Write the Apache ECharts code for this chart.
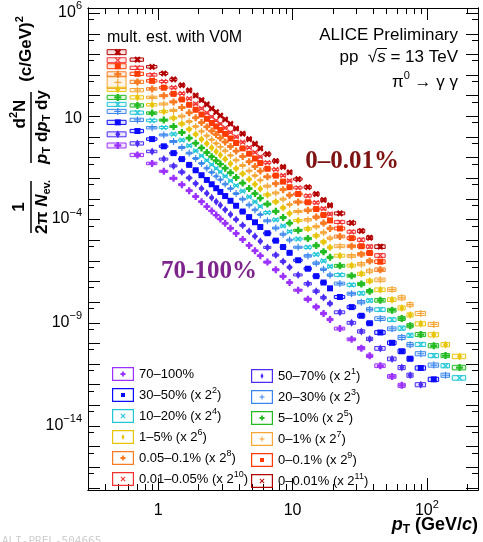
<!DOCTYPE html>
<html><head><meta charset="utf-8">
<script src="https://cdn.jsdelivr.net/npm/echarts@6/dist/echarts.min.js"></script>
<style>html,body{margin:0;padding:0;background:#fff}#c{width:483px;height:542px}</style>
</head><body><div id="c"></div>
<script>
// ---- data (pT bin edges in GeV/c, yields stored as log10 of 1/(2pi Nev) d2N/(pT dpT dy)) ----
const binEdges = [0.4,0.6,0.8,1.0,1.2,1.4,1.6,1.8,2.0,2.2,2.4,2.6,2.8,3.0,3.3,3.6,4.0,4.5,5.0,5.5,6.0,7.0,8.0,9.0,10,12,14,16,18,20,25,30,35,40,50,60,70,80,100,125,150,200];
const classNames = ['70–100%','50–70% (x 2^1)','30–50% (x 2^2)','20–30% (x 2^3)','10–20% (x 2^4)','5–10% (x 2^5)','1–5% (x 2^6)','0–1% (x 2^7)','0.05–0.1% (x 2^8)','0–0.1% (x 2^9)','0.01–0.05% (x 2^10)','0–0.01% (x 2^11)'];
const logY_70_100 = [-0.41,-0.87,-1.28,-1.66,-2.00,-2.31,-2.60,-2.88,-3.13,-3.37,-3.58,-3.78,-3.97,-4.18,-4.42,-4.67,-4.96,-5.25,-5.51,-5.75,-6.06,-6.43,-6.75,-7.05,-7.42,-7.86,-8.23,-8.55,-8.84,-9.28,-9.80,-10.23,-10.60,-11.08,-11.60,-12.03];
const logY_50_70 = [0.13,-0.31,-0.70,-1.07,-1.40,-1.70,-1.98,-2.25,-2.50,-2.73,-2.94,-3.13,-3.31,-3.52,-3.75,-4.00,-4.28,-4.56,-4.81,-5.05,-5.35,-5.72,-6.03,-6.31,-6.68,-7.11,-7.47,-7.78,-8.07,-8.49,-9.00,-9.42,-9.78,-10.24,-10.75,-11.17,-11.54,-12.00];
const logY_30_50 = [0.71,0.29,-0.10,-0.45,-0.78,-1.07,-1.35,-1.61,-1.85,-2.08,-2.29,-2.48,-2.66,-2.86,-3.09,-3.33,-3.61,-3.88,-4.13,-4.36,-4.66,-5.02,-5.33,-5.61,-5.97,-6.38,-6.74,-7.05,-7.33,-7.75,-8.24,-8.66,-9.02,-9.47,-9.97,-10.38,-10.74,-11.19,-11.74];
const logY_20_30 = [1.24,0.83,0.45,0.10,-0.22,-0.51,-0.78,-1.04,-1.28,-1.51,-1.71,-1.90,-2.07,-2.28,-2.50,-2.74,-3.01,-3.29,-3.53,-3.76,-4.06,-4.41,-4.71,-4.99,-5.34,-5.76,-6.11,-6.41,-6.69,-7.10,-7.59,-8.00,-8.35,-8.80,-9.29,-9.71,-10.06,-10.50,-11.05,-11.54];
const logY_10_20 = [1.58,1.18,0.80,0.46,0.14,-0.15,-0.42,-0.67,-0.91,-1.13,-1.34,-1.52,-1.69,-1.90,-2.12,-2.35,-2.62,-2.90,-3.14,-3.36,-3.66,-4.01,-4.31,-4.58,-4.94,-5.34,-5.69,-6.00,-6.27,-6.68,-7.16,-7.57,-7.92,-8.36,-8.85,-9.26,-9.61,-10.05,-10.59,-11.08,-11.67];
const logY_5_10 = [1.92,1.53,1.16,0.82,0.51,0.22,-0.05,-0.30,-0.53,-0.75,-0.95,-1.14,-1.31,-1.51,-1.73,-1.96,-2.23,-2.50,-2.74,-2.96,-3.25,-3.60,-3.90,-4.17,-4.52,-4.92,-5.26,-5.56,-5.83,-6.24,-6.72,-7.12,-7.47,-7.91,-8.39,-8.79,-9.14,-9.57,-10.11,-10.59,-11.17];
const logY_1_5 = [2.31,1.92,1.56,1.23,0.92,0.64,0.38,0.13,-0.11,-0.32,-0.52,-0.70,-0.87,-1.07,-1.29,-1.52,-1.78,-2.05,-2.29,-2.51,-2.80,-3.14,-3.43,-3.70,-4.04,-4.45,-4.78,-5.08,-5.35,-5.75,-6.23,-6.63,-6.97,-7.40,-7.88,-8.28,-8.62,-9.05,-9.58,-10.06,-10.63];
const logY_0_1 = [2.65,2.27,1.92,1.60,1.29,1.01,0.75,0.51,0.28,0.06,-0.13,-0.31,-0.48,-0.67,-0.89,-1.12,-1.38,-1.64,-1.87,-2.09,-2.38,-2.71,-3.01,-3.27,-3.61,-4.01,-4.34,-4.63,-4.90,-5.29,-5.76,-6.16,-6.49,-6.92,-7.39,-7.79,-8.12,-8.55,-9.08];
const logY_005_01 = [3.04,2.67,2.33,2.00,1.70,1.43,1.17,0.93,0.70,0.49,0.29,0.12,-0.05,-0.24,-0.46,-0.68,-0.94,-1.20,-1.43,-1.65,-1.93,-2.26,-2.55,-2.82,-3.15,-3.55,-3.88,-4.17,-4.43,-4.82,-5.29,-5.68,-6.01,-6.43];
const logY_0_01 = [3.43,3.06,2.72,2.39,2.09,1.82,1.56,1.32,1.09,0.88,0.68,0.51,0.34,0.15,-0.07,-0.29,-0.55,-0.81,-1.04,-1.26,-1.54,-1.87,-2.16,-2.43,-2.76,-3.16,-3.49,-3.78,-4.04,-4.43,-4.90,-5.29,-5.62,-6.04];
const logY_001_005 = [3.72,3.35,3.01,2.69,2.39,2.11,1.86,1.61,1.39,1.17,0.98,0.80,0.64,0.44,0.23,0.01,-0.25,-0.51,-0.74,-0.96,-1.24,-1.57,-1.86,-2.12,-2.46,-2.85,-3.18,-3.47,-3.73,-4.12,-4.59,-4.98,-5.31,-5.74];
const logY_0_001 = [4.11,3.75,3.40,3.08,2.79,2.51,2.26,2.01,1.79,1.58,1.38,1.21,1.04,0.85,0.64,0.41,0.16,-0.10,-0.33,-0.55,-0.83,-1.16,-1.45,-1.71,-2.04,-2.43,-2.76,-3.05,-3.31,-3.70,-4.16,-4.55,-4.88,-5.31];
// systematic uncertainty half-height (decades) per pT bin, and for the first bin of each class
const sysHalfDecades = [0.12,0.08,0.06,0.05,0.05,0.05,0.045,0.045,0.045,0.045,0.045,0.045,0.045,0.045,0.045,0.045,0.045,0.045,0.045,0.045,0.05,0.05,0.05,0.05,0.05,0.06,0.06,0.06,0.06,0.07,0.07,0.08,0.08,0.09,0.09,0.1,0.1,0.1,0.1,0.1,0.11];
const firstBinSys = [0.12,0.12,0.1,0.1,0.1,0.1,0.1,0.3,0.12,0.12,0.12,0.12];
const xMajorTicks = [1,10,100];
const xMinorTicks = [0.4,0.5,0.6,0.7,0.8,0.9,2,3,4,5,6,7,8,9,20,30,40,50,60,70,80,90,200];
const yLabelTicks = [1e-14,1e-9,1e-4,10,1e6];

const allLogY = [logY_70_100,logY_50_70,logY_30_50,logY_20_30,logY_10_20,logY_5_10,logY_1_5,logY_0_1,logY_005_01,logY_0_01,logY_001_005,logY_0_001];

// ---- styles ----
const colors = ['#9b30ff','#4a2cf5','#0a0aff','#3b86ee','#1fc6d6','#22bb22','#e8c40a','#f5a634','#f77b22','#ff3b00','#f23030','#b30000'];
const PT = 'path://M3,0H6V3H9V6H6V9H3V6H0V3H3Z';
const PN = 'path://M4,0H5.6V4H9.6V5.6H5.6V9.6H4V5.6H0V4H4Z';
const markers = [
  {s:PT,z:7,r:0},{s:'diamond',z:[5,8],r:0},{s:'rect',z:6,r:0},{s:PN,z:7,r:0},
  {s:PN,z:7,r:45},{s:PT,z:7,r:0},{s:'diamond',z:[5,8],r:0},{s:PN,z:7,r:0},
  {s:PT,z:7,r:0},{s:'rect',z:6,r:0},{s:PN,z:7,r:45},{s:PT,z:7,r:45}];
const ring = 'M0,0H22V14H0ZM1.2,1.2V12.8H20.8V1.2Z';
const iconMarks = {
  pt:'M10.1,4.5H11.9V6.1H13.5V7.9H11.9V9.5H10.1V7.9H8.5V6.1H10.1Z',
  pn:'M10.5,4.5H11.5V6.5H13.5V7.5H11.5V9.5H10.5V7.5H8.5V6.5H10.5Z',
  sq:'M9,5H13V9H9Z',
  di:'M11,4L12.5,7L11,10L9.5,7Z',
  x:'M9.2,4.5L11,6.3L12.8,4.5L13.5,5.2L11.7,7L13.5,8.8L12.8,9.5L11,7.7L9.2,9.5L8.5,8.8L10.3,7L8.5,5.2Z'};
const iconKind = ['pt','di','sq','pn','x','pt','di','pn','pt','sq','x','x'];

function hexA(hex, a){const n=parseInt(hex.slice(1),16);return 'rgba('+(n>>16)+','+((n>>8)&255)+','+(n&255)+','+a+')';}

const series = [];
allLogY.forEach(function(arr, k){
  const pts = [], boxes = [];
  arr.forEach(function(lv, i){
    const lo = binEdges[i], hi = binEdges[i+1];
    const y = Math.pow(10, lv);
    pts.push([(lo+hi)/2, y]);
    boxes.push([lo, hi, y, i === 0 ? firstBinSys[k] : sysHalfDecades[i]]);
  });
  const col = colors[k], fillC = hexA(col, 0.12);
  series.push({
    type:'custom', name:classNames[k], data:boxes, encode:{x:[0,1], y:2}, clip:true, silent:true, z:2,
    itemStyle:{color:col},
    renderItem:function(params, api){
      const f = Math.pow(10, api.value(3));
      const a = api.coord([api.value(0), api.value(2)*f]);
      const b = api.coord([api.value(1), api.value(2)/f]);
      const w = b[0]-a[0], sh = w*0.1;
      return {type:'rect', shape:{x:a[0]+sh, y:a[1], width:w-2*sh, height:Math.max(b[1]-a[1],1.5)},
              style:{fill:fillC, stroke:col, lineWidth:1}};
    }
  });
  series.push({
    type:'scatter', name:classNames[k], data:pts, z:3, silent:true,
    symbol:markers[k].s, symbolSize:markers[k].z, symbolRotate:markers[k].r,
    itemStyle:{color:col, opacity:1}
  });
});

function legendData(idx){
  return idx.map(function(k){return {name:classNames[k], icon:'path://'+ring+iconMarks[iconKind[k]]};});
}
const legendText = {fontSize:13, fontFamily:'Liberation Sans', color:'#000',
  rich:{s:{fontSize:9, fontFamily:'Liberation Sans', color:'#000', padding:[0,0,9,0]}}};
function legFmt(n){return n.replace(/\^(\d+)/, '{s|$1}');}

const xMin = 0.3, xMax = 240, yMin = Math.pow(10,-17.1), yMax = Math.pow(10,6.25);
const yMajor = [], yMinor = [];
for (let e = -17; e <= 6; e++) { yMajor.push(Math.pow(10,e)); yMinor.push(5*Math.pow(10,e-1)); }

const labRich = {
  b:{fontSize:16, fontFamily:'Liberation Sans', color:'#000', padding:[4,0,0,0], verticalAlign:'top'},
  s:{fontSize:11, fontFamily:'Liberation Sans', color:'#000', padding:[0,0,14,0]}
};
function expFmt(v){
  const e = Math.round(Math.log10(v));
  if (e === 0) return '{b|1}';
  if (e === 1) return '{b|10}';
  return '{b|10}{s|' + (e < 0 ? '\u2212' + (-e) : e) + '}';
}
function axisX(pos, ticks, len, labels){
  return {type:'log', logBase:10, min:xMin, max:xMax, position:pos,
    axisLine:{show:true, onZero:false, lineStyle:{color:'#000', width:1}},
    axisTick:{show:true, inside:true, length:len, customValues:ticks, lineStyle:{color:'#000', width:1}},
    axisLabel:labels ? {show:true, customValues:xMajorTicks, formatter:expFmt, margin:9, rich:labRich} : {show:false},
    splitLine:{show:false}, minorTick:{show:false}, minorSplitLine:{show:false}};
}
function axisY(pos, ticks, len, labels){
  return {type:'log', logBase:10, min:yMin, max:yMax, position:pos,
    axisLine:{show:true, onZero:false, lineStyle:{color:'#000', width:1}},
    axisTick:{show:true, inside:true, length:len, customValues:ticks, lineStyle:{color:'#000', width:1}},
    axisLabel:labels ? {show:true, customValues:yLabelTicks, formatter:expFmt, margin:6, rich:labRich} : {show:false},
    splitLine:{show:false}, minorTick:{show:false}, minorSplitLine:{show:false}};
}

const F = '"Liberation Sans"';
const rt = {
  r:{fontSize:17, fontFamily:'Liberation Sans', fontWeight:'bold', fill:'#000', color:'#000'},
  i:{fontSize:17, fontFamily:'Liberation Sans', fontWeight:'bold', fontStyle:'italic', color:'#000'},
  s:{fontSize:11, fontFamily:'Liberation Sans', fontWeight:'bold', color:'#000', padding:[0,0,12,0]},
  u:{fontSize:11, fontFamily:'Liberation Sans', fontWeight:'bold', color:'#000', padding:[10,0,0,0]}
};
function T(x, y, text, font, align, extra){
  const st = {text:text, font:font, fill:'#000', align:align, textAlign:align, verticalAlign:'middle', textVerticalAlign:'middle'};
  if (extra) Object.assign(st, extra);
  return {type:'text', x:x, y:y, style:st, silent:true, z:10};
}
const rot = Math.PI/2;
const graphic = [
  T(107, 38, 'mult. est. with V0M', '16px '+F, 'left'),
  T(458, 35, 'ALICE Preliminary', '17px '+F, 'right'),
  T(458, 57, 'pp  \u221A{i|s} = 13 TeV', '17px '+F, 'right', {rich:{i:{fontSize:17, fontFamily:'Liberation Sans', fontStyle:'italic'}}}),
  {type:'line', shape:{x1:377, y1:48.5, x2:387, y2:48.5}, style:{stroke:'#000', lineWidth:1}, silent:true, z:10},
  T(458, 82, '\u03C0{s|0} \u2192 \u03B3 \u03B3', '17px '+F, 'right', {rich:{s:{fontSize:11, fontFamily:'Liberation Sans', padding:[0,0,12,0]}}}),
  T(352, 162, '0\u20130.01%', 'bold 25px "Liberation Serif"', 'center', {fill:'#7f1212'}),
  T(209, 272, '70-100%', 'bold 25px "Liberation Serif"', 'center', {fill:'#7d248c'}),
  T(2, 536, 'ALI-PREL-504665', '11px "DejaVu Sans Mono"', 'left', {fill:'#cfcfcf', verticalAlign:'top', textVerticalAlign:'top'}),
  T(478, 525, '{i|p}{u|T} {r|(GeV/}{i|c}{r|)}', 'bold 18px '+F, 'right', {rich:{
     r:{fontSize:18, fontFamily:'Liberation Sans', fontWeight:'bold'},
     i:{fontSize:18, fontFamily:'Liberation Sans', fontWeight:'bold', fontStyle:'italic'},
     u:{fontSize:12, fontFamily:'Liberation Sans', fontWeight:'bold', padding:[10,0,0,0]}}}),
  // y-axis title pieces (rotated)
  Object.assign(T(26, 49, '{r|(c/GeV)}{s|2}', 'bold 17px '+F, 'center', {rich:rt}), {rotation:rot}),
  Object.assign(T(20, 114, '{r|d}{s|2}{r|N}', 'bold 17px '+F, 'center', {rich:rt}), {rotation:rot}),
  {type:'line', shape:{x1:31, y1:92, x2:31, y2:163}, style:{stroke:'#000', lineWidth:1.5}, silent:true},
  Object.assign(T(42, 127, '{i|p}{u|T}{r| d}{i|p}{u|T}{r| dy}', 'bold 17px '+F, 'center', {rich:rt}), {rotation:rot}),
  Object.assign(T(19, 207, '{r|1}', 'bold 17px '+F, 'center', {rich:rt}), {rotation:rot}),
  {type:'line', shape:{x1:31, y1:181, x2:31, y2:233}, style:{stroke:'#000', lineWidth:1.5}, silent:true},
  Object.assign(T(42, 207, '{r|2\u03C0 }{i|N}{u|ev.}', 'bold 17px '+F, 'center', {rich:rt}), {rotation:rot})
];

const chart = echarts.init(document.getElementById('c'), null, {renderer:'canvas'});
chart.setOption({
  animation:false,
  backgroundColor:'#fff',
  grid:{left:88, right:5, top:8, bottom:52, containLabel:false, outerBoundsMode:'none'},
  xAxis:[axisX('bottom', xMajorTicks, 12, true), axisX('bottom', xMinorTicks, 6, false),
         axisX('top', xMajorTicks, 12, false), axisX('top', xMinorTicks, 6, false)],
  yAxis:[axisY('left', yMajor, 12, true), axisY('left', yMinor, 6, false),
         axisY('right', yMajor, 12, false), axisY('right', yMinor, 6, false)],
  legend:[
    {data:legendData([0,2,4,6,8,10]), left:112, top:367, orient:'vertical', itemWidth:22, itemHeight:14, itemGap:5,
     padding:0, selectedMode:false, textStyle:legendText, formatter:legFmt},
    {data:legendData([1,3,5,7,9,11]), left:251, top:367, orient:'vertical', itemWidth:22, itemHeight:14, itemGap:5,
     padding:0, selectedMode:false, textStyle:legendText, formatter:legFmt}
  ],
  series:series,
  graphic:graphic
});
</script></body></html>
